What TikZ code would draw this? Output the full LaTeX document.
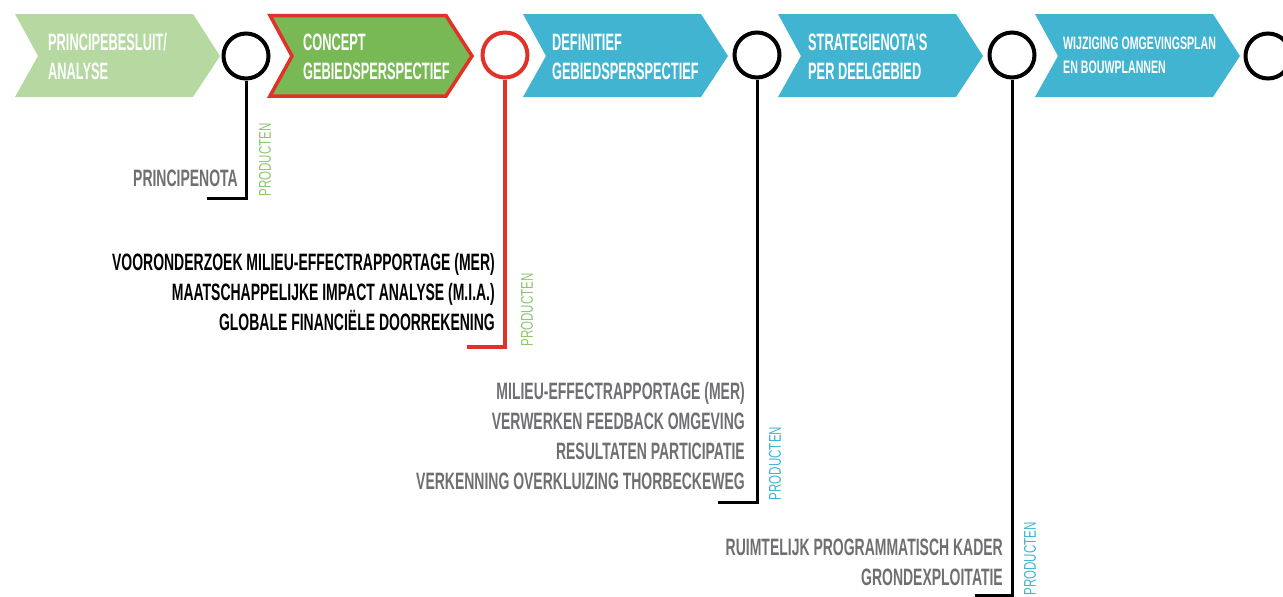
\documentclass[tikz,border=0pt]{standalone}
\usepackage{fontspec}
\usepackage{xcolor}
\usetikzlibrary{calc}
\newfontfamily\kopfont{Liberation Sans Bold}[FakeStretch=0.54]
\newfontfamily\lijstfont{Liberation Sans Bold}[FakeStretch=0.59]
\newfontfamily\prodfont{Liberation Sans}[FakeStretch=0.68]
\definecolor{lichtgroen}{RGB}{181,217,160}
\definecolor{groen}{RGB}{120,185,85}
\definecolor{rood}{RGB}{224,50,40}
\definecolor{blauw}{RGB}{64,180,208}
\definecolor{grijs}{RGB}{110,110,115}
\definecolor{tekstgroen}{RGB}{140,200,110}

\begin{document}
\begin{tikzpicture}[
			x=1pt, y=-1pt,
			fase/.style={
				font=\kopfont\fontsize{23.7}{29}\selectfont,
				text=white,
				anchor=west,
				align=left,
				inner sep=0pt,
			},
			kring/.style={
				circle,
				draw=black,
				line width=4pt,
				minimum size=45pt,
				inner sep=0pt,
			},
			steel/.style={line width=3pt},
			lijst/.style={
				font=\lijstfont\fontsize{23.7}{30}\selectfont,
				anchor=east,
				align=right,
				inner sep=0pt,
			},
			producten/.style={
				font=\prodfont\fontsize{17}{17}\selectfont,
				rotate=90,
				inner sep=0pt,
			},
			]
			\useasboundingbox (0,0) rectangle (1283,597);
			%% Fases
			\fill[lichtgroen] (15,14) -- ++(178,0) -- ++(27,42) -- ++(-27,41) -- ++(-178,0) -- ++(23,-41) -- cycle;
			\filldraw[groen, draw=rood, line width=3.5pt] (270,15.5) -- ++(176,0) -- ++(26,40.5) -- ++(-26,40) -- ++(-176,0) -- ++(22,-40) -- cycle;
			\fill[blauw] (523,14) -- ++(178,0) -- ++(27,42) -- ++(-27,41) -- ++(-178,0) -- ++(23,-41) -- cycle;
			\fill[blauw] (778,14) -- ++(178,0) -- ++(27,42) -- ++(-27,41) -- ++(-178,0) -- ++(23,-41) -- cycle;
			\fill[blauw] (1035,14) -- ++(178,0) -- ++(27,42) -- ++(-27,41) -- ++(-178,0) -- ++(23,-41) -- cycle;
			\node[fase] (f1) at (48,56.5) {PRINCIPEBESLUIT/\\ANALYSE};
			\node[fase] (f2) at (303,56.5) {CONCEPT\\GEBIEDSPERSPECTIEF};
			\node[fase] (f3) at (552,56.5) {DEFINITIEF\\GEBIEDSPERSPECTIEF};
			\node[fase] (f4) at (808,56.5) {STRATEGIENOTA'S\\PER DEELGEBIED};
			\node[fase, font=\lijstfont\fontsize{18}{24}\selectfont] (f5) at (1063,55) {WIJZIGING OMGEVINGSPLAN\\EN BOUWPLANNEN};
			%% Mijlpalen
			\node[kring] (k1) at (246,56) {};
			\node[kring, draw=rood] (k2) at (505,55) {};
			\node[kring] (k3) at (757,55) {};
			\node[kring] (k4) at (1012,55) {};
			\node[kring] (k5) at (1268,56) {};
			%% Producten
			\coordinate (e1) at (207,198);
			\coordinate (e2) at (467,347);
			\coordinate (e3) at (718,502);
			\coordinate (e4) at (975,595);
			\draw[steel] (k1.south) |- (e1);
			\draw[steel, rood, line width=3.5pt] (k2.south) |- (e2);
			\draw[steel] (k3.south) |- (e3);
			\draw[steel] (k4.south) |- (e4);
			\node[lijst, text=grijs] (l1) at (238,178) {PRINCIPENOTA};
			\node[lijst, text=black] (l2) at (495,292) {VOORONDERZOEK MILIEU-EFFECTRAPPORTAGE (MER)\\MAATSCHAPPELIJKE IMPACT ANALYSE (M.I.A.)\\GLOBALE FINANCIËLE DOORREKENING};
			\node[lijst, text=grijs] (l3) at (745,436) {MILIEU-EFFECTRAPPORTAGE (MER)\\VERWERKEN FEEDBACK OMGEVING\\RESULTATEN PARTICIPATIE\\VERKENNING OVERKLUIZING THORBECKEWEG};
			\node[lijst, text=grijs] (l4) at (1003,562.5) {RUIMTELIJK PROGRAMMATISCH KADER\\GRONDEXPLOITATIE};
			\node[producten, text=tekstgroen] (p1) at (265,160) {PRODUCTEN};
			\node[producten, text=tekstgroen] (p2) at (527,310) {PRODUCTEN};
			\node[producten, text=blauw] (p3) at (775,463.5) {PRODUCTEN};
			\node[producten, text=blauw] (p4) at (1030,559) {PRODUCTEN};
		\end{tikzpicture}
\end{document}
